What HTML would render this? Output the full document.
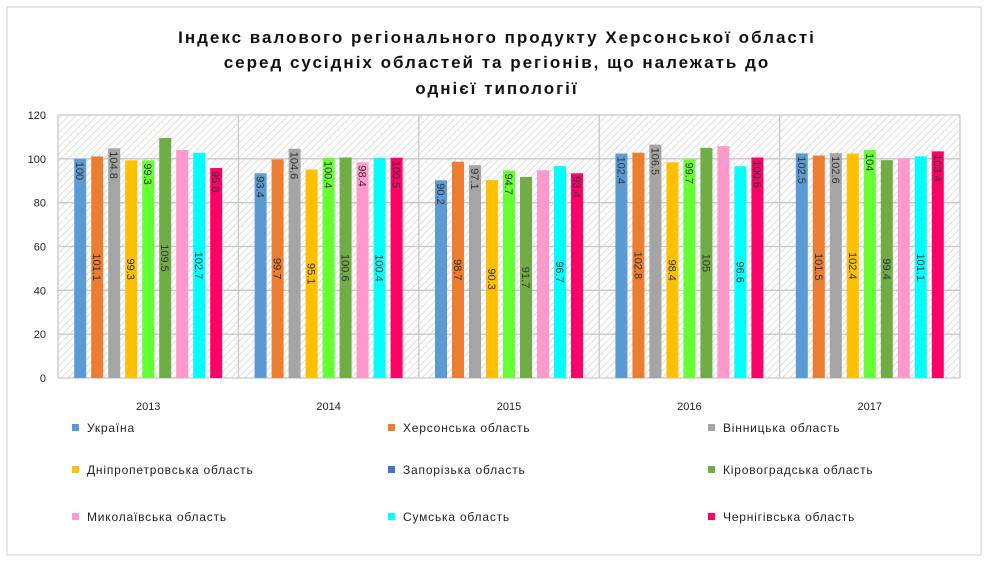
<!DOCTYPE html>
<html><head><meta charset="utf-8"><style>
body{margin:0;background:#fff;width:992px;height:564px;overflow:hidden;font-family:"Liberation Sans","DejaVu Sans",sans-serif}
svg text{font-family:"Liberation Sans","DejaVu Sans",sans-serif}
</style></head><body>
<svg id="chart" width="992" height="564">
<defs><pattern id="hatch" width="5" height="5" patternUnits="userSpaceOnUse" patternTransform="rotate(45)"><rect width="5" height="5" fill="#fff"/><line x1="0" y1="0" x2="0" y2="5" stroke="#d0d0d0" stroke-width="1.4"/></pattern></defs>
<rect x="7" y="7" width="974" height="548" fill="#fff" stroke="#cfcfcf"/>
<g font-weight="bold" font-size="17" text-anchor="middle" fill="#111">
<text x="497" y="43" letter-spacing="2">Індекс валового регіонального продукту Херсонської області</text>
<text x="497" y="68" letter-spacing="2">серед сусідніх областей та регіонів, що належать до</text>
<text x="497" y="94" letter-spacing="2">однієї типології</text>
</g>
<g id="plot"></g>
<g id="legend"></g>
</svg>
<script>
const years=["2013","2014","2015","2016","2017"];
const seriesNames=["Україна","Херсонська область","Вінницька область","Дніпропетровська область","Запорізька область","Кіровоградська область","Миколаївська область","Сумська область","Чернігівська область"];
const ukraine=[100,93.4,90.2,102.4,102.5];
const kherson=[101.1,99.7,98.7,102.8,101.5];
const vinnytsia=[104.8,104.6,97.1,106.5,102.6];
const dnipro=[99.3,95.1,90.3,98.4,102.4];
const zaporizhzhia=[99.3,100.4,94.7,99.7,104];
const kirovohrad=[109.5,100.6,91.7,105,99.4];
const mykolaiv=[104,98.4,94.8,105.8,100.2];
const sumy=[102.7,100.4,96.7,96.6,101.1];
const chernihiv=[95.8,100.5,93.4,100.6,103.4];
const yTicks=[0,20,40,60,80,100,120];
const seriesValues=[ukraine,kherson,vinnytsia,dnipro,zaporizhzhia,kirovohrad,mykolaiv,sumy,chernihiv];
const colors=["#5b9bd5","#ed7d31","#a5a5a5","#ffc000","#66ff33","#70ad47","#ff99cc","#00ffff","#ff0066"];
const legendColors=["#5b9bd5","#ed7d31","#a5a5a5","#ffc000","#4472c4","#70ad47","#ff99cc","#00ffff","#ff0066"];
const NS="http://www.w3.org/2000/svg";
const X0=58,X1=960,Y0=378,Y1=115;
const y=v=>Y0-(v/120)*(Y0-Y1);
const gw=(X1-X0)/years.length;
const step=17,bw=12;
const bx=(g,s)=>X0+g*gw+gw/2-(seriesValues.length*step)/2+s*step+2.5;
function mk(tag,attrs,parent){const e=document.createElementNS(NS,tag);for(const k in attrs)e.setAttribute(k,attrs[k]);parent.appendChild(e);return e;}
const plot=document.getElementById('plot');
const bg=mk('rect',{x:X0,y:Y1,width:X1-X0,height:Y0-Y1,fill:'url(#hatch)'},plot);


yTicks.forEach(t=>{
  const l=mk('line',{x1:X0,x2:X1,y1:y(t),y2:y(t),stroke:'#c8c8c8','stroke-width':1.3},plot);
  
  
  const tx=mk('text',{x:46,y:y(t)+4,'text-anchor':'end','font-size':11,fill:'#222'},plot);
  tx.textContent=t;
  
  
});
for(let g=0;g<=years.length;g++){
  const l=mk('line',{x1:X0+g*gw,x2:X0+g*gw,y1:Y1,y2:Y0,stroke:'#c8c8c8','stroke-width':1.3},plot);
  
  
}
years.forEach((yr,g)=>{
  const tx=mk('text',{x:X0+g*gw+gw/2,y:410,'text-anchor':'middle','font-size':11,fill:'#222'},plot);
  tx.textContent=yr;
  
  
  seriesValues.forEach((vals,s)=>{
    const v=vals[g];
    const r=mk('rect',{x:bx(g,s),y:y(v),width:bw,height:Y0-y(v),fill:colors[s]},plot);
    
    
    if(s===6&&g!==1)return;
    const top=(s%2===0);
    const cy=top?y(v)+3:(y(v)+Y0)/2;
    const cx=bx(g,s)+bw/2;
    const lt=mk('text',{x:cx,y:cy,'font-size':11,fill:'#333','text-anchor':top?'start':'middle',transform:`rotate(90 ${cx} ${cy}) translate(0 4)`},plot);
    lt.textContent=String(v);
    
    
  });
});
const leg=document.getElementById('legend');
const lx=[72,388,708],ly=[432,474,521];
seriesNames.forEach((n,i)=>{
  const cx=lx[i%3],cy=ly[Math.floor(i/3)];
  const g=mk('g',{},leg);
  
  
  mk('rect',{x:cx,y:cy-8,width:7,height:7,fill:legendColors[i]},g);
  const t=mk('text',{x:cx+15,y:cy,'font-size':12,fill:'#222','letter-spacing':'0.8'},g);
  t.textContent=n;
});
</script>
</body></html>
